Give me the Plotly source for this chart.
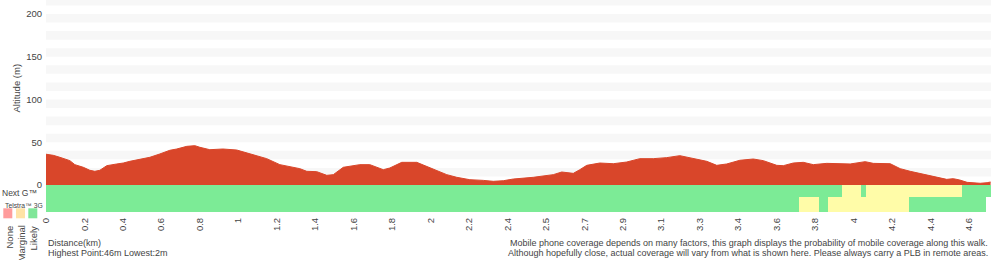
import plotly.graph_objects as go

# ---------------- data ----------------
# x positions are sample indices along the walk (ticks every 10 samples)
tick_index = [0, 10, 20, 30, 40, 50, 60, 70, 80, 90, 100, 110, 120, 130, 140, 150,
              160, 170, 180, 190, 200, 210, 220, 230, 240]
tick_labels = ["0", "0.2", "0.4", "0.6", "0.8", "1", "1.2", "1.4", "1.6", "1.8", "2",
               "2.2", "2.4", "2.5", "2.7", "2.9", "3.1", "3.3", "3.4", "3.6", "3.8",
               "4", "4.2", "4.4", "4.6"]

elev_index = [0, 1.9, 3.6, 6.2, 7.5, 9.7, 11.4, 12.7, 14.0, 15.8, 18.4, 20.1, 21.8, 24.4,
              27.0, 29.6, 32.2, 34.0, 36.6, 38.7, 40.0, 42.6, 46.0, 49.6, 52.2, 54.8,
              57.4, 60.8, 63.4, 66.0, 67.8, 70.4, 73.0, 74.7, 77.3, 79.9, 81.6, 84.2,
              87.7, 89.4, 92.5, 96.4, 99.0, 101.6, 104.2, 106.8, 110.2, 113.7, 116.3,
              118.9, 121.5, 126.7, 130.2, 131.9, 134.1, 137.1, 138.8, 140.6, 144.0,
              147.5, 151.0, 154.4, 157.9, 161.4, 164.8, 167.4, 171.8, 174.4, 177.0,
              180.4, 183.9, 186.5, 190.0, 191.7, 194.3, 196.9, 199.5, 203.0, 209.1,
              213.0, 215.1, 219.5, 222.1, 224.7, 227.3, 229.9, 232.5, 234.2, 235.9,
              237.6, 239.5, 242.9, 244.7, 245.6]
elevation = [36, 34.7, 32.4, 28.5, 23.8, 20.7, 17.2, 16, 17.2, 22.6, 24.6, 25.7, 27.7, 30.4,
             32.4, 36.3, 40.6, 42.1, 45.2, 46, 44.1, 41.3, 42.1, 40.9, 37.4, 33.5,
             30.8, 23.8, 21.8, 19.1, 16, 15.6, 11.3, 12.1, 20.7, 23, 23.8, 23.8,
             17.9, 19.9, 26.5, 26.5, 21.8, 17.2, 12.1, 9, 6.2, 5.4, 4.3,
             5, 7, 9, 10.9, 12.1, 15.2, 13.6, 17.9, 23, 25.7,
             24.9, 26.9, 30.8, 30.8, 32, 34.3, 31.6, 27.7, 23, 24.6,
             28.9, 30.4, 28.5, 23, 22.6, 25.7, 26.5, 23.8, 25.3, 24.6,
             27.3, 25.3, 24.9, 19.1, 16, 13.6, 11.3, 9, 6.6, 7.4,
             5.8, 3.1, 2, 2.7, 3.5]

# coverage segments (edges in sample index, status per segment)
nextg_edges = [0, 207.0, 212.0, 213.3, 238.2, 245.6]
nextg_status = ["Likely", "Marginal", "Likely", "Marginal", "Likely"]
g3_edges = [0, 195.8, 201.0, 203.3, 224.4, 244.4]
g3_status = ["Likely", "Marginal", "Likely", "Marginal", "Likely"]

legend_items = ["None", "Marginal", "Likely"]

# ---------------- style ----------------
W, H = 1000, 260
L, R, T, B = 46, 9, 0, 48
PW, PH = W - L - R, H - T - B
PX_PER_M = 0.855
YMAX = 185 / PX_PER_M
YMIN = -(PH - 185) / PX_PER_M
ROW_SPLIT = -11.7 / PX_PER_M

FONT = "Liberation Sans, Arial, Helvetica, sans-serif"
TXT = "#444444"
AREA = "#d9462a"
cov_colors = {"None": "#ff8f8f", "Marginal": "#fffca8", "Likely": "#7ceb96"}
leg_colors = {"None": "#ff9c9c", "Marginal": "#ffe3a6", "Likely": "#7fe698"}


def xp(px):
    return (px - L) / PW


def yp(py):
    return (T + PH - py) / PH


fig = go.Figure()

# elevation area
fig.add_trace(go.Scatter(
    x=elev_index, y=elevation, mode="lines", fill="tozeroy",
    line=dict(color=AREA, width=1), fillcolor=AREA, hoverinfo="skip",
    showlegend=False))

# coverage rows as horizontal bars
rows = [
    (nextg_edges, nextg_status, (0 + ROW_SPLIT) / 2, -ROW_SPLIT),
    (g3_edges, g3_status, (ROW_SPLIT + YMIN) / 2, ROW_SPLIT - YMIN),
]
for edges, status, center, thick in rows:
    starts = edges[:-1]
    lengths = [b - a for a, b in zip(edges[:-1], edges[1:])]
    fig.add_trace(go.Bar(
        orientation="h", y=[center] * len(starts), x=lengths, base=starts,
        width=[thick] * len(starts),
        marker=dict(color=[cov_colors[s] for s in status], line=dict(width=0)),
        hoverinfo="skip", showlegend=False))

shapes = []
# alternating horizontal bands
b = 10
while b < YMAX:
    shapes.append(dict(type="rect", xref="paper", yref="y", x0=0, x1=1, y0=b,
                       y1=min(b + 10, YMAX), fillcolor="#f7f7f7", line=dict(width=0),
                       layer="below"))
    b += 20

# legend squares
leg_x = [3.3, 16, 28.3]
for name, x0 in zip(legend_items, leg_x):
    shapes.append(dict(type="rect", xref="paper", yref="paper", x0=xp(x0), x1=xp(x0 + 9),
                       y0=yp(218.3), y1=yp(208.3), fillcolor=leg_colors[name],
                       line=dict(width=0)))

annotations = []
annotations.append(dict(text="Altitude (m)", xref="paper", yref="paper", x=xp(16), y=yp(88.5),
                        textangle=-90, showarrow=False, xanchor="center", yanchor="middle",
                        font=dict(family=FONT, size=9.5, color=TXT)))
annotations.append(dict(text="Next G™", xref="paper", yref="paper", x=xp(0), y=yp(192.5),
                        showarrow=False, xanchor="left", yanchor="middle",
                        font=dict(family=FONT, size=8.5, color=TXT)))
annotations.append(dict(text="Telstra™ 3G", xref="paper", yref="paper", x=xp(2.5), y=yp(205),
                        showarrow=False, xanchor="left", yanchor="middle",
                        font=dict(family=FONT, size=6.8, color=TXT)))
leg_tx = [9, 20.5, 33]
for name, xc in zip(legend_items, leg_tx):
    annotations.append(dict(text=name, xref="paper", yref="paper", x=xp(xc), y=yp(224),
                            textangle=-90, showarrow=False, xanchor="center", yanchor="top",
                            font=dict(family=FONT, size=9.5, color=TXT)))
annotations.append(dict(text="Distance(km)", xref="paper", yref="paper", x=xp(46), y=yp(242.5),
                        showarrow=False, xanchor="left", yanchor="middle",
                        font=dict(family=FONT, size=9, color=TXT)))
annotations.append(dict(text=f"Highest Point:{max(elevation):g}m Lowest:{min(elevation):g}m",
                        xref="paper", yref="paper", x=xp(46), y=yp(253.5),
                        showarrow=False, xanchor="left", yanchor="middle",
                        font=dict(family=FONT, size=9, color=TXT)))
annotations.append(dict(text="Mobile phone coverage depends on many factors, this graph displays the probability of mobile coverage along this walk.",
                        xref="paper", yref="paper", x=xp(990), y=yp(242.5),
                        showarrow=False, xanchor="right", yanchor="middle",
                        font=dict(family=FONT, size=9, color=TXT)))
annotations.append(dict(text="Although hopefully close, actual coverage will vary from what is shown here. Please always carry a PLB in remote areas.",
                        xref="paper", yref="paper", x=xp(990), y=yp(253.5),
                        showarrow=False, xanchor="right", yanchor="middle",
                        font=dict(family=FONT, size=9, color=TXT)))

fig.update_layout(
    width=W, height=H, margin=dict(l=L, r=R, t=T, b=B, pad=0),
    plot_bgcolor="white", paper_bgcolor="white",
    barmode="overlay", bargap=0, showlegend=False,
    shapes=shapes, annotations=annotations,
    font=dict(family=FONT, color=TXT),
    xaxis=dict(range=[0, PW / 3.846], tickmode="array", tickvals=tick_index,
               ticktext=tick_labels, tickangle=-90, showgrid=False, zeroline=False,
               showline=False, ticks="", ticklabelstandoff=3,
               tickfont=dict(size=9.5, color=TXT, family=FONT)),
    yaxis=dict(range=[YMIN, YMAX], tickmode="array", tickvals=[0, 50, 100, 150, 200],
               showgrid=False, zeroline=False, showline=False, ticks="", ticklabelstandoff=3,
               tickfont=dict(size=9.5, color=TXT, family=FONT)),
)

fig.write_html("out.html")
